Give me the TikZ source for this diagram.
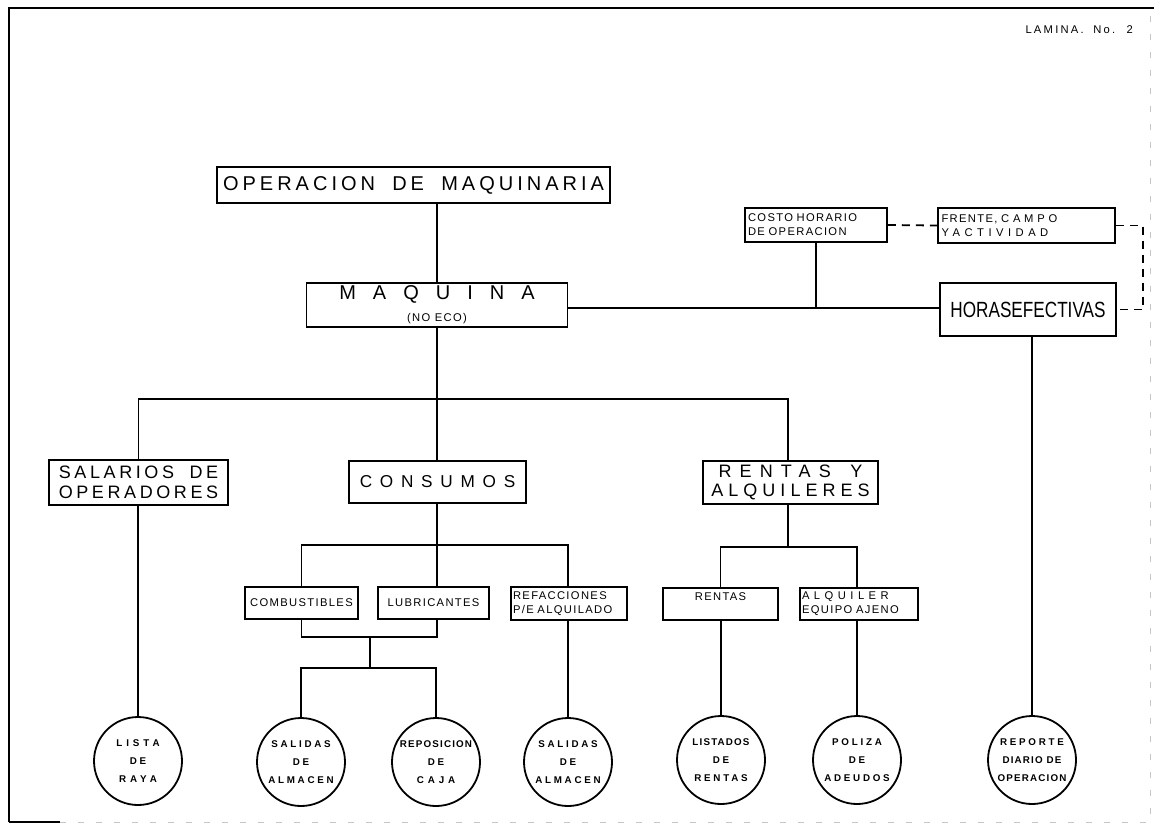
\documentclass[tikz,border=0pt]{standalone}
\usepackage{fontspec}
\setmainfont{Liberation Sans}
% letter-spaced variants of the same sans
\newfontfamily\trackA[LetterSpace=20, WordSpace=1.8]{Liberation Sans}
\newfontfamily\trackR[LetterSpace=28]{Liberation Sans}
\newfontfamily\trackB[LetterSpace=45, WordSpace=1.5]{Liberation Sans}
\newfontfamily\trackC[LetterSpace=85]{Liberation Sans}
\newfontfamily\trackS[LetterSpace=12]{Liberation Sans}
\newfontfamily\trackW[LetterSpace=40, WordSpace=1.5]{Liberation Sans}
\newfontfamily\narrowfont[FakeStretch=0.78]{Liberation Sans}
\newcommand\setfs[2]{\fontsize{#1}{#2}\selectfont}
% lettering inside the document circles: it may run up to the rim
\newcommand\disc[1]{\makebox[0pt]{\renewcommand\arraystretch{0.95}\begin{tabular}{@{}c@{}}#1\end{tabular}}}

\tikzset{
  box/.style={draw, line width=0.9pt, inner sep=0pt, align=center},
  circ/.style={draw, circle, line width=0.9pt, minimum size=44pt, inner sep=0pt,
               font=\trackR\bfseries\setfs{4.9pt}{9.5pt}},
  link/.style={line width=0.9pt},
  dlink/.style={line width=0.9pt, dash pattern=on 4pt off 3pt},
  small/.style={font=\trackS\setfs{5.6pt}{7pt}}
}

\begin{document}
\begin{tikzpicture}[x=0.5pt, y=-0.5pt]
\useasboundingbox (0,0) rectangle (1154,829);

% sheet border
\draw[line width=1.1pt] (9,822) -- (9,8) -- (1154,8);
\draw[line width=1.1pt] (9,822) -- (60,822);
\draw[gray!45, line width=0.4pt, dash pattern=on 3pt off 6pt] (60,822) -- (1150,822) -- (1150,8);

\node[font=\trackA\setfs{5.6pt}{7pt}, anchor=east] (lamina) at (1140,30) {LAMINA. No. 2};

% upper level
\node[box, minimum width=196.5pt, minimum height=18pt, font=\trackA\setfs{10pt}{12pt}]
  (top) at (413.5,185) {OPERACION DE MAQUINARIA};
\node[box, minimum width=130.5pt, minimum height=22pt]
  (maq) at (437,305) {{\trackC\setfs{10pt}{11pt}MAQUINA}\\[-1pt]{\trackS\setfs{5.6pt}{6pt}(NO ECO)}};
\node[box, minimum width=71pt, minimum height=17pt, text width=68pt, align=left, small]
  (costo) at (816,225) {COSTO HORARIO\\DE OPERACION};
\node[box, minimum width=88.5pt, minimum height=17.5pt, text width=85pt, align=left,
      font=\trackS\setfs{5.6pt}{7pt}]
  (frente) at (1026.5,225.5) {FRENTE, {\trackW C A M P O}\\{\trackW Y ACTIVIDAD}};
\node[box, minimum width=88pt, minimum height=26.5pt, font=\narrowfont\setfs{11pt}{12pt}]
  (horas) at (1028,309.5) {HORASEFECTIVAS};

% second level
\node[box, minimum width=89.5pt, minimum height=22.5pt, font=\trackA\setfs{9pt}{9.8pt}]
  (salarios) at (138.5,482.5) {SALARIOS DE\\OPERADORES};
\node[box, minimum width=88.5pt, minimum height=21pt, font=\trackB\setfs{8.6pt}{9.6pt}]
  (consumos) at (437.5,482) {CONSUMOS};
\node[box, minimum width=87.5pt, minimum height=21.5pt, font=\trackR\setfs{9pt}{9.8pt}]
  (rentas) at (790.5,482.5) {{\trackB RENTAS Y}\\ALQUILERES};

% third level
\node[box, minimum width=56.5pt, minimum height=16pt, small] (comb) at (301.5,603) {COMBUSTIBLES};
\node[box, minimum width=55.5pt, minimum height=16pt, small] (lub) at (433.5,603) {LUBRICANTES};
\node[box, minimum width=58pt, minimum height=16.5pt, small, text width=56pt, align=left]
  (refac) at (569,603.5) {REFACCIONES\\P/E ALQUILADO};
\node[box, minimum width=57.5pt, minimum height=16pt, small] (rent2) at (720.5,604) {RENTAS\\\mbox{}};
\node[box, minimum width=59pt, minimum height=16pt, small, text width=57pt, align=left]
  (alq) at (859,604) {{\trackW ALQUILER}\\EQUIPO AJENO};

% documents
\node[circ] (lista) at (138,761) {\disc{{\trackW LISTA}\\DE\\{\trackW RAYA}}};
\node[circ] (sal1) at (301,762) {\disc{SALIDAS\\DE\\ALMACEN}};
\node[circ] (repo) at (436,762) {\disc{{\trackS REPOSICION}\\DE\\{\trackW CAJA}}};
\node[circ] (sal2) at (568,762) {\disc{SALIDAS\\DE\\ALMACEN}};
\node[circ] (listados) at (721,760) {\disc{{\trackS LISTADOS}\\DE\\RENTAS}};
\node[circ] (poliza) at (857,760) {\disc{POLIZA\\DE\\ADEUDOS}};
\node[circ] (reporte) at (1032,760) {\disc{REPORTE\\{\trackS DIARIO DE}\\{\trackS OPERACION}}};

% junction points
\coordinate (hj) at (816,308);
\coordinate (b1) at (437,399);
\coordinate (b2) at (437,545);
\coordinate (b3) at (370,637);
\coordinate (b4) at (370,668);
\coordinate (b5) at (788,547);

% connectors
\draw[link] (maq.north) -- (maq.north |- top.south);
\draw[link] (maq.east |- hj) -- (horas.west |- hj);
\draw[link] (costo.south) -- (hj);
\draw[dlink] (costo.east) -- (frente.west);
\draw[dlink] (frente.east) -- ++(27,0) |- (horas.east);
\draw[link] (reporte.north) -- (reporte.north |- horas.south);

\draw[link] (maq.south) -- (b1);
\draw[link] (salarios.north) |- (b1) -| (rentas.north -| b5);
\draw[link] (b1) -- (b1 |- consumos.north);
\draw[link] (lista.north) -- (lista.north |- salarios.south);

\draw[link] (consumos.south -| b2) -- (b2);
\draw[link] (comb.north) |- (b2) -| (sal2.north |- refac.north);
\draw[link] (b2) -- (b2 |- lub.north);
\draw[link] (comb.south) |- (b3) -| (b2 |- lub.south);
\draw[link] (b3) -- (b4);
\draw[link] (sal1.north) |- (b4) -| (repo.north);
\draw[link] (sal2.north) -- (sal2.north |- refac.south);

\draw[link] (rentas.south -| b5) -- (b5);
\draw[link] (rent2.north) |- (b5) -| (poliza.north |- alq.north);
\draw[link] (listados.north) -- (listados.north |- rent2.south);
\draw[link] (poliza.north) -- (poliza.north |- alq.south);
\end{tikzpicture}
\end{document}
